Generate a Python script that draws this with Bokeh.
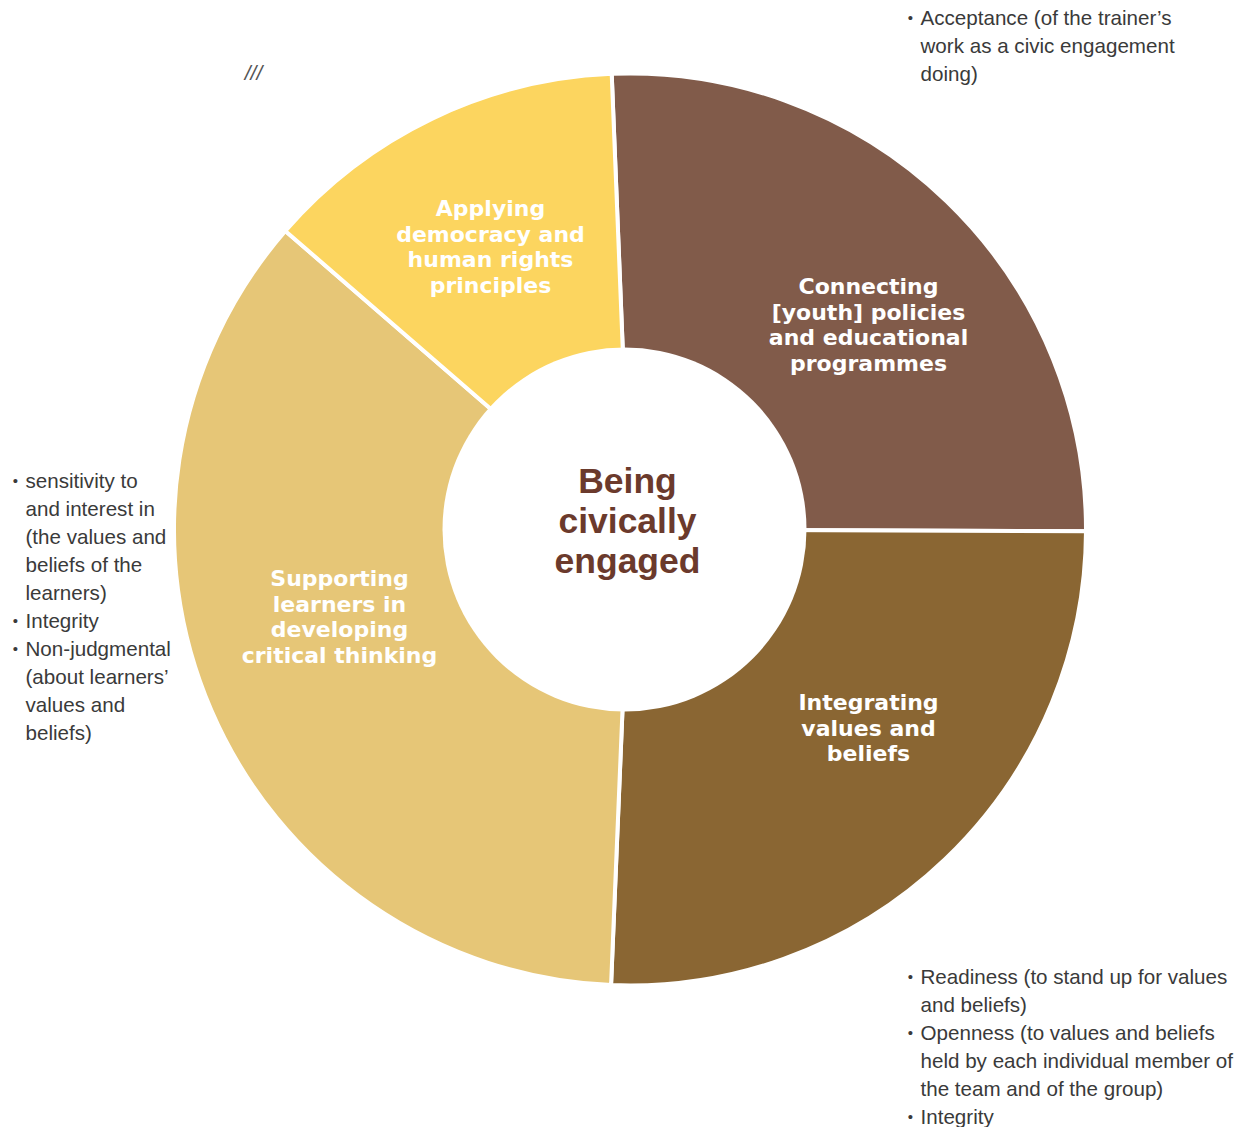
import numpy as np
from bokeh.plotting import figure
from bokeh.models import Range1d, ColumnDataSource
from bokeh.core.properties import value
from bokeh.embed import file_html
from bokeh.resources import INLINE

# ---------------- data ----------------
segments = ["Connecting [youth] policies and educational programmes",
            "Integrating values and beliefs",
            "Supporting learners in developing critical thinking",
            "Applying democracy and human rights principles"]
shares = [25.7, 25.6, 35.7, 13.0]          # percent of the ring, clockwise from top
label_lines = [["Connecting", "[youth] policies", "and educational", "programmes"],
               ["Integrating", "values and", "beliefs"],
               ["Supporting", "learners in", "developing", "critical thinking"],
               ["Applying", "democracy and", "human rights", "principles"]]
center_lines = ["Being", "civically", "engaged"]

notes_top_right = [["Acceptance (of the trainer\u2019s", "work as a civic engagement", "doing)"]]
notes_left = [["sensitivity to", "and interest in", "(the values and", "beliefs of the", "learners)"],
              ["Integrity"],
              ["Non-judgmental", "(about learners\u2019", "values and", "beliefs)"]]
notes_bottom_right = [["Readiness (to stand up for values", "and beliefs)"],
                      ["Openness (to values and beliefs", "held by each individual member of",
                       "the team and of the group)"],
                      ["Integrity"]]
stray_mark = "///"

# ---------------- styles / layout ----------------
colors = ["#815b4a", "#8a6633", "#e6c677", "#fcd55f"]
cx, cy = 629.5, -529          # ring centre
hx, hy = 624, -529            # hole centre
r_in, r_out = 182, 456
start_compass = -2.3   # degrees clockwise from 12 o'clock
label_pos = [(868, 286), (868, 702), (339, 578), (490, 208)]   # (x, first line y) in page px
label_step = 25.5
note_step = 28

W, H = 1241, 1127
p = figure(width=W, height=H, output_backend="svg", toolbar_location=None,
           x_range=Range1d(0, W), y_range=Range1d(-H, 0),
           min_border=0)
p.axis.visible = False
p.grid.visible = False
p.outline_line_color = None
p.background_fill_color = "white"
p.border_fill_color = "white"

# wedges
tot = sum(shares)
cum = np.concatenate([[0], np.cumsum(shares)]) / tot * 360.0 + start_compass
a0 = cum[:-1]
a1 = cum[1:]
src = ColumnDataSource(dict(
    start=np.radians(90 - a1), end=np.radians(90 - a0),
    color=colors, name=segments))
p.wedge(x=cx, y=cy, radius=r_out,
        start_angle="start", end_angle="end", direction="anticlock",
        fill_color="color", line_color="white", line_width=4, source=src)
p.circle(x=[hx], y=[hy], radius=r_in, fill_color="white", line_color=None)

# segment labels
lx, ly, lt = [], [], []
for (x0, y0), lines in zip(label_pos, label_lines):
    for i, t in enumerate(lines):
        lx.append(x0); ly.append(-(y0 + i * label_step)); lt.append(t)
p.text(x=lx, y=ly, text=lt, text_color="white", text_font=value("DejaVu Sans"),
       text_font_style="bold", text_font_size="22px", text_align="center",
       text_baseline="middle")

# center label
p.text(x=[627] * 3, y=[-(480 + 40 * i) for i in range(3)], text=center_lines,
       text_color="#6b3a2c", text_font=value("Liberation Sans"), text_font_style="bold",
       text_font_size="35.5px", text_align="center", text_baseline="middle")

# bullet notes
def add_notes(items, x_text, y_first):
    tx, ty, tt, bx, by = [], [], [], [], []
    k = 0
    for item in items:
        for j, t in enumerate(item):
            y = -(y_first + k * note_step)
            tx.append(x_text); ty.append(y); tt.append(t)
            if j == 0:
                bx.append(x_text - 10); by.append(y)
            k += 1
    p.text(x=tx, y=ty, text=tt, text_color="#3a3a3a", text_font=value("Liberation Sans"),
           text_font_size="20.6px", text_align="left", text_baseline="middle")
    p.text(x=bx, y=by, text=["\u2022"] * len(bx), text_color="#3a3a3a",
           text_font=value("Liberation Sans"), text_font_size="15px",
           text_align="center", text_baseline="middle")

add_notes(notes_top_right, 920, 17)
add_notes(notes_left, 25, 480)
add_notes(notes_bottom_right, 920, 976)

p.text(x=[253], y=[-72], text=[stray_mark], text_color="#555555",
       text_font=value("Liberation Sans"), text_font_size="21px",
       text_font_style="italic", text_align="center", text_baseline="middle")

open("out.html", "w").write(file_html(p, INLINE))
